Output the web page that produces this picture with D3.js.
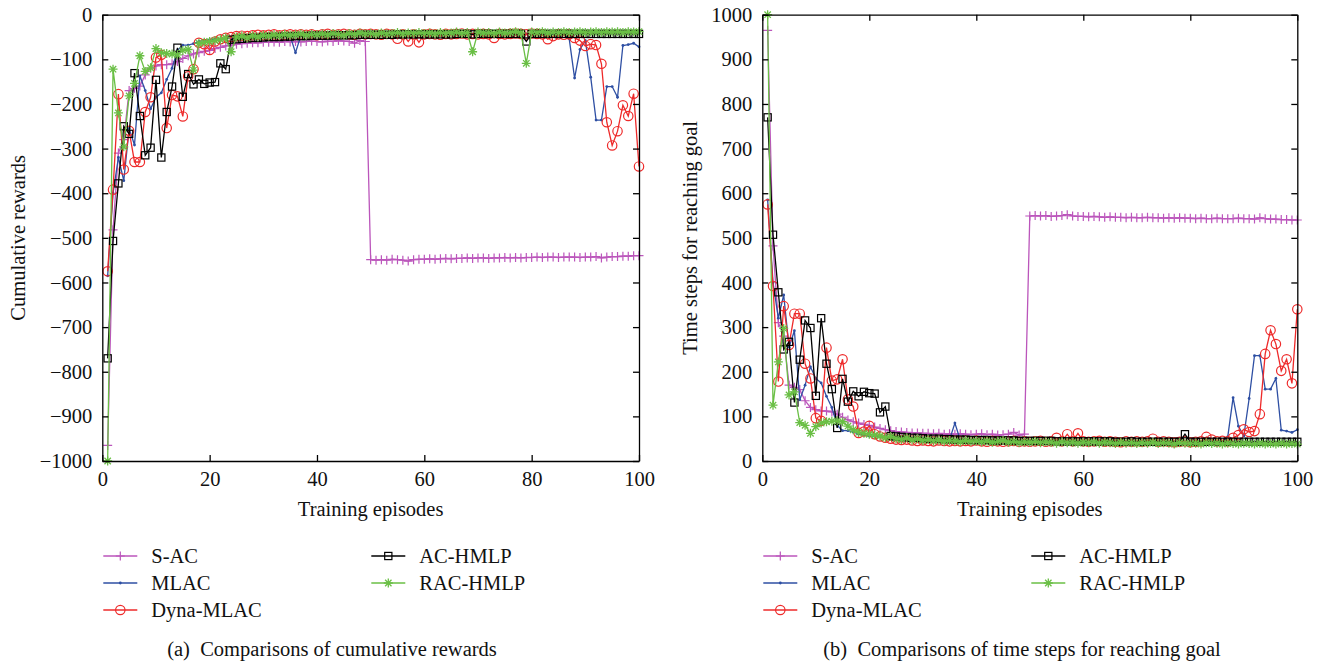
<!DOCTYPE html>
<html lang="en">
<head>
<meta charset="utf-8">
<style>
    body { margin: 0; background: #fff; }
    svg text { fill: #111; }
    .axis path, .axis line { stroke: #000; stroke-width: 1.3; }
    .caption { white-space: pre; }
</style>
<script src="https://d3js.org/d3.v7.min.js"></script>
</head>
<body>
<svg width="1323" height="663" font-family="'Liberation Serif', 'DejaVu Serif', serif" font-size="20.5"></svg>
<script>
// episodes 1..100 on the x axis
var episodes = d3.range(1, 101);
var episodeTicks = [0, 20, 40, 60, 80, 100];
var rewardTicks = [0, -100, -200, -300, -400, -500, -600, -700, -800, -900, -1000];
var stepTicks = [0, 100, 200, 300, 400, 500, 600, 700, 800, 900, 1000];

var seriesNames = ["S-AC", "MLAC", "Dyna-MLAC", "AC-HMLP", "RAC-HMLP"];
var seriesColors = ["#bb55bb", "#2e4fa3", "#ee2a2a", "#000000", "#6abf45"];
var seriesMarkers = ["plus", "dot", "circle", "square", "star"];

// (a) cumulative rewards
var rewardSAC = [
    -965, -482, -310, -280, -170, -165, -160, -135, -120, -115,
    -112, -112, -110, -105, -98, -92, -88, -85, -82, -80,
    -76, -73, -70, -68, -66, -65, -64, -63, -63, -62,
    -62, -61, -62, -60, -61, -60, -61, -60, -59, -60,
    -61, -59, -60, -58, -59, -60, -64, -58, -60, -549,
    -550, -549, -550, -548, -549, -550, -552, -549, -548, -548,
    -547, -548, -547, -546, -547, -546, -546, -545, -546, -545,
    -545, -546, -545, -545, -544, -545, -544, -545, -544, -544,
    -543, -544, -543, -543, -544, -543, -543, -543, -544, -543,
    -543, -542, -545, -543, -542, -542, -541, -541, -540, -540];
var rewardMLAC = [
    -585, -400, -320, -372, -255, -292, -137, -170, -211, -185,
    -175, -145, -120, -80, -68, -68, -65, -60, -58, -56,
    -55, -54, -53, -52, -52, -51, -50, -50, -49, -49,
    -48, -48, -48, -47, -48, -85, -47, -47, -46, -47,
    -46, -46, -47, -46, -45, -46, -45, -46, -45, -45,
    -45, -44, -45, -44, -45, -44, -44, -45, -44, -44,
    -44, -43, -44, -44, -43, -44, -43, -44, -43, -43,
    -44, -43, -43, -44, -43, -43, -44, -43, -43, -43,
    -43, -44, -43, -43, -43, -44, -54, -142, -78, -58,
    -140, -236, -236, -161, -161, -185, -69, -67, -64, -72];
var rewardDyna = [
    -575, -392, -178, -347, -260, -330, -330, -218, -185, -96,
    -90, -254, -180, -183, -228, -138, -122, -63, -66, -79,
    -60, -55, -52, -50, -48, -47, -48, -46, -45, -46,
    -45, -44, -46, -45, -44, -45, -44, -45, -44, -46,
    -44, -43, -45, -44, -43, -44, -45, -43, -44, -43,
    -44, -45, -43, -44, -54, -44, -60, -44, -62, -44,
    -43, -44, -45, -43, -44, -43, -42, -44, -43, -44,
    -43, -44, -52, -43, -44, -43, -42, -43, -44, -42,
    -43, -44, -55, -48, -44, -45, -44, -52, -58, -70,
    -66, -68, -110, -241, -293, -261, -203, -227, -177, -340];
var rewardAC = [
    -770, -507, -378, -250, -267, -131, -227, -315, -298, -146,
    -320, -218, -161, -74, -184, -133, -156, -145, -155, -152,
    -151, -109, -122, -56, -55, -54, -53, -52, -52, -51,
    -50, -50, -50, -49, -49, -48, -48, -48, -47, -47,
    -47, -47, -46, -46, -46, -46, -46, -45, -45, -45,
    -45, -45, -45, -45, -44, -44, -44, -44, -44, -44,
    -44, -44, -44, -44, -44, -43, -43, -43, -44, -43,
    -43, -43, -43, -43, -43, -43, -43, -43, -60, -43,
    -43, -43, -43, -43, -43, -43, -43, -43, -43, -43,
    -43, -43, -43, -43, -43, -43, -43, -43, -43, -43];
var rewardRAC = [
    -1000, -122, -220, -296, -182, -154, -92, -127, -119, -76,
    -85, -87, -88, -90, -80, -78, -124, -64, -62, -60,
    -58, -56, -52, -83, -50, -48, -52, -47, -50, -46,
    -48, -45, -47, -44, -46, -45, -43, -46, -44, -45,
    -43, -45, -42, -44, -46, -42, -44, -41, -43, -42,
    -44, -41, -43, -42, -40, -43, -41, -42, -40, -42,
    -41, -43, -40, -42, -41, -39, -42, -40, -83, -39,
    -41, -40, -42, -39, -41, -40, -38, -41, -109, -39,
    -40, -38, -41, -39, -40, -38, -40, -39, -38, -40,
    -39, -38, -40, -38, -39, -38, -40, -38, -39, -38];

// (b) time steps for reaching goal
var stepsSAC = [
    965, 482, 310, 280, 170, 165, 160, 135, 120, 115,
    112, 112, 110, 105, 98, 92, 88, 85, 82, 80,
    76, 73, 70, 68, 66, 65, 64, 63, 63, 62,
    62, 61, 62, 60, 61, 60, 61, 60, 59, 60,
    61, 59, 60, 58, 59, 60, 64, 58, 60, 549,
    550, 549, 550, 548, 549, 550, 552, 549, 548, 548,
    547, 548, 547, 546, 547, 546, 546, 545, 546, 545,
    545, 546, 545, 545, 544, 545, 544, 545, 544, 544,
    543, 544, 543, 543, 544, 543, 543, 543, 544, 543,
    543, 542, 545, 543, 542, 542, 541, 541, 540, 540];
var stepsMLAC = [
    585, 400, 320, 372, 255, 292, 137, 170, 211, 185,
    175, 145, 120, 80, 68, 68, 65, 60, 58, 56,
    55, 54, 53, 52, 52, 51, 50, 50, 49, 49,
    48, 48, 48, 47, 48, 85, 47, 47, 46, 47,
    46, 46, 47, 46, 45, 46, 45, 46, 45, 45,
    45, 44, 45, 44, 45, 44, 44, 45, 44, 44,
    44, 43, 44, 44, 43, 44, 43, 44, 43, 43,
    44, 43, 43, 44, 43, 43, 44, 43, 43, 43,
    43, 44, 43, 43, 43, 44, 54, 142, 78, 56,
    140, 236, 236, 161, 161, 185, 69, 67, 64, 70];
var stepsDyna = [
    575, 392, 178, 347, 260, 330, 330, 218, 185, 96,
    90, 254, 180, 183, 228, 138, 122, 63, 66, 79,
    60, 55, 52, 50, 48, 47, 48, 46, 45, 46,
    45, 44, 46, 45, 44, 45, 44, 45, 44, 46,
    44, 43, 45, 44, 43, 44, 45, 43, 44, 43,
    44, 45, 43, 44, 52, 44, 60, 44, 62, 44,
    43, 44, 45, 43, 44, 43, 42, 44, 43, 44,
    43, 44, 50, 43, 44, 43, 42, 43, 44, 42,
    43, 44, 54, 48, 44, 45, 44, 52, 58, 71,
    65, 67, 105, 240, 293, 262, 202, 228, 174, 340];
var stepsAC = [
    770, 507, 378, 250, 267, 131, 227, 315, 298, 146,
    320, 218, 161, 74, 184, 133, 156, 145, 155, 152,
    151, 109, 122, 56, 55, 54, 53, 52, 52, 51,
    50, 50, 50, 49, 49, 48, 48, 48, 47, 47,
    47, 47, 46, 46, 46, 46, 46, 45, 45, 45,
    45, 45, 45, 45, 44, 44, 44, 44, 44, 44,
    44, 44, 44, 44, 44, 43, 43, 43, 44, 43,
    43, 43, 43, 43, 43, 43, 43, 43, 60, 43,
    43, 43, 43, 43, 43, 43, 43, 43, 43, 43,
    43, 43, 43, 43, 43, 43, 43, 43, 43, 43];
var stepsRAC = [
    1000, 125, 222, 297, 148, 155, 86, 80, 62, 77,
    85, 88, 89, 90, 88, 78, 70, 64, 62, 60,
    58, 56, 52, 55, 50, 48, 52, 47, 50, 46,
    48, 45, 47, 44, 46, 45, 43, 46, 44, 45,
    43, 45, 42, 44, 46, 42, 44, 41, 43, 42,
    44, 41, 43, 42, 40, 43, 41, 42, 40, 42,
    41, 43, 40, 42, 41, 39, 42, 40, 41, 39,
    41, 40, 42, 39, 41, 40, 38, 41, 40, 39,
    40, 38, 41, 39, 40, 38, 40, 39, 38, 40,
    39, 38, 40, 38, 39, 38, 40, 38, 39, 38];

var svg = d3.select("svg");
svg.append("rect").attr("width", 1323).attr("height", 663).attr("fill", "#fff");

var tickFmt = d3.format("d");

function drawMarker(sel, type, color) {
    if (type == "plus") {
        sel.append("path").attr("d", "M-4.5,0H4.5M0,-4.5V4.5")
            .attr("stroke", color).attr("stroke-width", 1.2).attr("fill", "none");
    } else if (type == "star") {
        sel.append("path").attr("d", "M-4.5,0H4.5M0,-4.5V4.5M-3.2,-3.2L3.2,3.2M-3.2,3.2L3.2,-3.2")
            .attr("stroke", color).attr("stroke-width", 1.3).attr("fill", "none");
    } else if (type == "circle") {
        sel.append("circle").attr("r", 4.7)
            .attr("stroke", color).attr("stroke-width", 1.2).attr("fill", "none");
    } else if (type == "square") {
        sel.append("rect").attr("x", -3.6).attr("y", -3.6).attr("width", 7.2).attr("height", 7.2)
            .attr("stroke", color).attr("stroke-width", 1.2).attr("fill", "none");
    } else {
        sel.append("circle").attr("r", 1.4).attr("fill", color);
    }
}

// d3 axes put their own sans-serif font on the group, drop it
function plainAxis(sel) {
    sel.attr("font-family", null).attr("font-size", null);
}

function drawPanel(p) {
    var x = d3.scaleLinear().domain([0, 100]).range([p.left, p.right]);
    var y = d3.scaleLinear().domain(p.yDomain).range([p.bottom, p.top]);

    var g = svg.append("g");

    // series
    p.series.forEach(function(vals, i) {
        var pts = episodes.map(function(e, j) { return [e, vals[j]]; });
        var line = d3.line()
            .x(function(d) { return x(d[0]); })
            .y(function(d) { return y(d[1]); });
        g.append("path")
            .datum(pts)
            .attr("d", line)
            .attr("fill", "none")
            .attr("stroke", seriesColors[i])
            .attr("stroke-width", 1.3);
        g.selectAll(".m" + i)
            .data(pts)
            .enter().append("g")
            .attr("class", "m" + i)
            .attr("transform", function(d) { return "translate(" + x(d[0]) + "," + y(d[1]) + ")"; })
            .each(function() { drawMarker(d3.select(this), seriesMarkers[i], seriesColors[i]); });
    });

    // box + inward ticks
    g.append("g").attr("class", "axis")
        .attr("transform", "translate(0," + p.bottom + ")")
        .call(d3.axisBottom(x).tickValues(episodeTicks).tickFormat(tickFmt)
            .tickSize(-6).tickSizeOuter(0).tickPadding(10))
        .call(plainAxis);
    g.append("g").attr("class", "axis")
        .attr("transform", "translate(0," + p.top + ")")
        .call(d3.axisTop(x).tickValues(episodeTicks).tickSize(-6).tickSizeOuter(0).tickFormat(""))
        .call(plainAxis);
    g.append("g").attr("class", "axis")
        .attr("transform", "translate(" + p.left + ",0)")
        .call(d3.axisLeft(y).tickValues(p.yTicks).tickFormat(tickFmt)
            .tickSize(-6).tickSizeOuter(0).tickPadding(10))
        .call(plainAxis);
    g.append("g").attr("class", "axis")
        .attr("transform", "translate(" + p.right + ",0)")
        .call(d3.axisRight(y).tickValues(p.yTicks).tickSize(-6).tickSizeOuter(0).tickFormat(""))
        .call(plainAxis);

    // axis titles
    svg.append("text")
        .attr("transform", "translate(" + p.yLabelX + "," + (p.top + p.bottom) / 2 + ") rotate(-90)")
        .attr("text-anchor", "middle")
        .text(p.yLabel);
    svg.append("text")
        .attr("x", (p.left + p.right) / 2)
        .attr("y", 516)
        .attr("text-anchor", "middle")
        .text("Training episodes");

    // legend
    var cols = [p.left + 1, p.left + 269];
    var rows = [556, 583, 610];
    var slots = [[0, 0], [0, 1], [0, 2], [1, 0], [1, 1]];
    seriesNames.forEach(function(name, i) {
        var lx = cols[slots[i][0]], ly = rows[slots[i][1]];
        var lg = svg.append("g").attr("transform", "translate(" + lx + "," + ly + ")");
        lg.append("line").attr("x1", 0).attr("x2", 34).attr("y1", 0).attr("y2", 0)
            .attr("stroke", seriesColors[i]).attr("stroke-width", 1.3);
        drawMarker(lg.append("g").attr("transform", "translate(17,0)"), seriesMarkers[i], seriesColors[i]);
        lg.append("text").attr("x", 48).attr("dy", "0.33em").text(name);
    });

    svg.append("text")
        .attr("class", "caption")
        .attr("x", p.captionX)
        .attr("y", 656)
        .attr("text-anchor", "middle")
        .text(p.caption);
}

drawPanel({
    left: 102.3, right: 639, top: 14.7, bottom: 461,
    yDomain: [-1000, 0], yTicks: rewardTicks,
    series: [rewardSAC, rewardMLAC, rewardDyna, rewardAC, rewardRAC],
    yLabel: "Cumulative rewards", yLabelX: 25,
    caption: "(a)  Comparisons of cumulative rewards", captionX: 332
});

drawPanel({
    left: 762.3, right: 1297.3, top: 14.7, bottom: 461,
    yDomain: [0, 1000], yTicks: stepTicks,
    series: [stepsSAC, stepsMLAC, stepsDyna, stepsAC, stepsRAC],
    yLabel: "Time steps for reaching goal", yLabelX: 697,
    caption: "(b)  Comparisons of time steps for reaching goal", captionX: 1022
});
</script>
</body>
</html>
